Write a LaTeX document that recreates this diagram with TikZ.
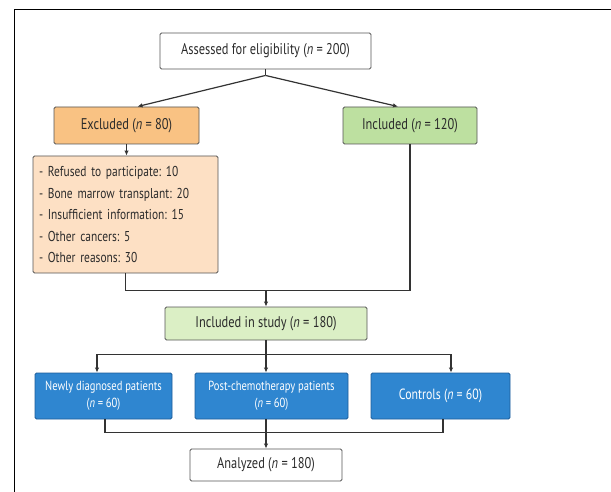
\documentclass[tikz,border=0pt]{standalone}
\usepackage{fontspec}
\setmainfont{PT Sans}[FakeStretch=0.8]
\usetikzlibrary{positioning,arrows.meta}
\definecolor{exclorange}{HTML}{F9C283}
\definecolor{reasonpeach}{HTML}{FDE0C4}
\definecolor{inclgreen}{HTML}{BDE0A0}
\definecolor{studygreen}{HTML}{DBEFC5}
\definecolor{groupblue}{HTML}{2F86D0}
\definecolor{groupedge}{HTML}{1D5C9A}
\definecolor{boxline}{HTML}{555555}
\definecolor{linegray}{HTML}{333333}
\definecolor{inkgray}{HTML}{2B2B2B}
\frenchspacing

\begin{document}
\begin{tikzpicture}[x=1pt,y=-1pt,
			box/.style={
				draw=boxline,
				line width=0.9pt,
				rounded corners=1.5pt,
				inner sep=0pt,
				align=center,
				text=inkgray,
				font=\fontsize{15.5}{17}\selectfont
			},
			group/.style={
				box,
				draw=groupedge,
				fill=groupblue,
				text=white,
				minimum height=46pt,
				font=\fontsize{13.2}{16.5}\selectfont
			},
			link/.style={draw=linegray,line width=1.2pt},
			>={Latex[length=5pt,width=4.5pt]}]
			
			\useasboundingbox (0,0) rectangle (611,492);
			
			\draw[line width=1.3pt] (14.5,492) -- (14.5,9.5) -- (611,9.5);
			
			\node(assess)[box,minimum width=211pt,minimum height=36pt] at (265.5,51){Assessed for eligibility (\textit{n} = 200)};
			
			\node(excl)[box,fill=exclorange,minimum width=145pt,minimum height=37pt] at (126.5,125.5){Excluded (\textit{n} = 80)};
			
			\node(incl)[box,fill=inclgreen,minimum width=134pt,minimum height=37pt] at (410,125.5){Included (\textit{n} = 120)};
			
			\node(reasons)[box,fill=reasonpeach,minimum width=185pt,minimum height=117pt,text width=173pt,inner xsep=6pt,align=left,font=\fontsize{14.3}{21.5}\selectfont] at (125.5,214.5){- Refused to participate: 10\\- Bone marrow transplant: 20\\- Insufficient information: 15\\- Other cancers: 5\\- Other reasons: 30};
			
			\node(study)[box,fill=studygreen,minimum width=202pt,minimum height=33pt] at (266,323.5){Included in study (\textit{n} = 180)};
			
			\node(newly)[group,minimum width=137pt] at (103.5,396){Newly diagnosed patients\\(\textit{n} = 60)};
			
			\node(post)[group,minimum width=153pt] at (271.5,396){Post-chemotherapy patients\\(\textit{n} = 60)};
			
			\node(ctrl)[group,minimum width=139pt,font=\fontsize{14.8}{16.5}\selectfont] at (440.5,396){Controls (\textit{n} = 60)};
			
			\node(analyzed)[box,minimum width=152pt,minimum height=32pt] at (266,465){Analyzed (\textit{n} = 180)};
			
			\draw[link](assess.south)--++(0,6)coordinate(split);
			
			\draw[link,->](split)--([xshift=11pt]excl.north);
			
			\draw[link,->](split)--([xshift=-12pt]incl.north);
			
			\draw[link,->](excl.south)--(excl.south|-reasons.north);
			
			\draw[link](reasons.south)--++(0,17)coordinate(join)-|(incl.south);
			
			\draw[link,->](join-|study.north)--(study.north);
			
			\draw[link,->](study.south)--(study.south|-post.north);
			
			\path(study.south)++(0,14)coordinate(fork);
			
			\draw[link,->](fork)-|([xshift=-6.5pt]newly.north);
			
			\draw[link,->](fork)-|([xshift=10.5pt]ctrl.north);
			
			\draw[link]([xshift=1.5pt]newly.south)--++(0,13)-|([xshift=2.5pt]ctrl.south);
			
			\draw[link,->](post.south-|analyzed.north)--(analyzed.north);
			
		\end{tikzpicture}
\end{document}
